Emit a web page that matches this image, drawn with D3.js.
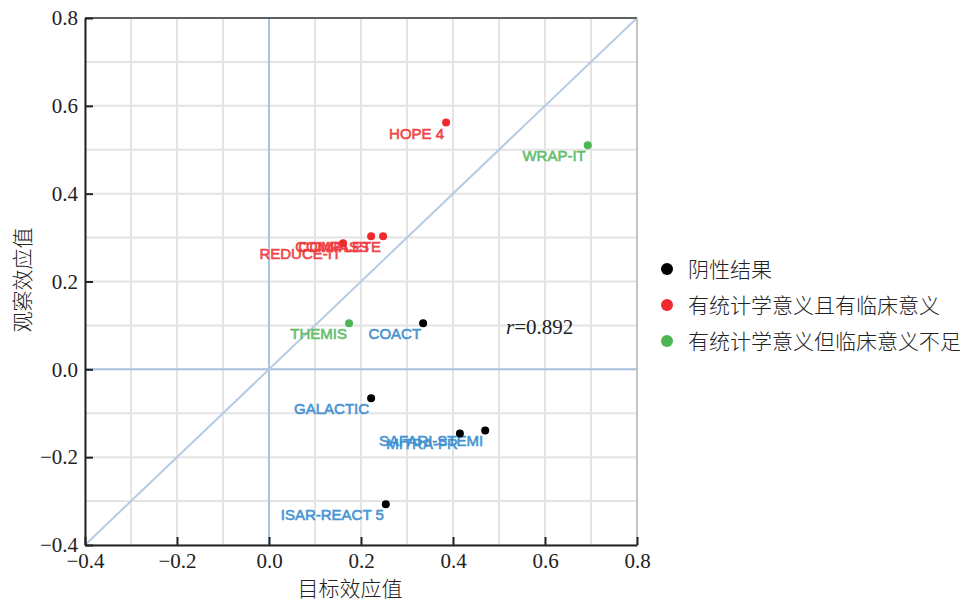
<!DOCTYPE html>
<html><head><meta charset="utf-8">
<script src="https://cdn.jsdelivr.net/npm/d3@7"></script>
<style>body{margin:0;background:#fff}</style>
</head><body>
<svg id="c" width="967" height="604"></svg>
<script>
const trials = ["HOPE 4","WRAP-IT","COMPASS","COMPLETE","REDUCE-IT","THEMIS","COACT","GALACTIC","SAFARI-STEMI","MITRA-FR","ISAR-REACT 5"];
const targetEffect = [0.385,0.693,0.222,0.248,0.161,0.174,0.335,0.222,0.470,0.415,0.254];
const observedEffect = [0.562,0.510,0.303,0.303,0.287,0.105,0.105,-0.066,-0.139,-0.146,-0.307];
const group = [1,2,1,1,1,2,0,0,0,0,0];
const legendLabels = ["阴性结果","有统计学意义且有临床意义","有统计学意义但临床意义不足"];
const tickValues = [-0.4,-0.2,0.0,0.2,0.4,0.6,0.8];
const xTitle = "目标效应值", yTitle = "观察效应值";
const rText = "0.892";

const dotColors = ["#000000","#ee2a2f","#4cb552"];
const labelColors = ["#3d8fd1","#ef3a40","#5cbb66"];

const svg = d3.select("#c");
const x = d3.scaleLinear().domain([-0.4,0.8]).range([85,637]);
const y = d3.scaleLinear().domain([-0.4,0.8]).range([545,18]);

// grid
const grid = d3.range(-4,9).map(d=>d/10);
svg.append("g").selectAll("line").data(grid).join("line")
  .attr("x1",d=>x(d)).attr("x2",d=>x(d)).attr("y1",y(-0.4)).attr("y2",y(0.8))
  .attr("stroke","#e4e4e4").attr("stroke-width",2);
svg.append("g").selectAll("line").data(grid).join("line")
  .attr("y1",d=>y(d)).attr("y2",d=>y(d)).attr("x1",x(-0.4)).attr("x2",x(0.8))
  .attr("stroke","#e4e4e4").attr("stroke-width",2);

// zero lines and diagonal
svg.append("line").attr("x1",x(0)).attr("x2",x(0)).attr("y1",y(-0.4)).attr("y2",y(0.8))
  .attr("stroke","#aac3e0").attr("stroke-width",2);
svg.append("line").attr("x1",x(-0.4)).attr("x2",x(0.8)).attr("y1",y(0)).attr("y2",y(0))
  .attr("stroke","#aac3e0").attr("stroke-width",2);
svg.append("line").attr("x1",x(-0.4)).attr("y1",y(-0.4)).attr("x2",x(0.8)).attr("y2",y(0.8))
  .attr("stroke","#b6cbe4").attr("stroke-width",2);

// frame top / right
svg.append("line").attr("x1",x(-0.4)).attr("x2",x(0.8)).attr("y1",y(0.8)).attr("y2",y(0.8))
  .attr("stroke","#333").attr("stroke-width",1.5);
svg.append("line").attr("x1",x(0.8)).attr("x2",x(0.8)).attr("y1",y(0.8)).attr("y2",y(-0.4))
  .attr("stroke","#bbb").attr("stroke-width",1.5);

// axes
const fmt = d=> (d<0?"\u2212":"")+Math.abs(d).toFixed(1);
const xAxis = svg.append("g").attr("transform",`translate(0,${y(-0.4)})`)
  .call(d3.axisBottom(x).tickValues(tickValues).tickSizeInner(-8).tickSizeOuter(0).tickPadding(8).tickFormat(fmt));
const yAxis = svg.append("g").attr("transform",`translate(${x(-0.4)},0)`)
  .call(d3.axisLeft(y).tickValues(tickValues).tickSizeInner(-8).tickSizeOuter(0).tickPadding(7).tickFormat(fmt));
[xAxis,yAxis].forEach(a=>{
  a.select(".domain").attr("stroke","#222").attr("stroke-width",2);
  a.selectAll(".tick line").attr("stroke","#222").attr("stroke-width",2);
  a.selectAll(".tick text").attr("font-family","'Liberation Serif','DejaVu Serif',serif")
    .attr("font-size",21).attr("fill","#222");
});

// titles
svg.append("text").attr("x",350).attr("y",596).attr("text-anchor","middle")
  .attr("font-family","'Noto Sans CJK SC',sans-serif").attr("font-weight",300).attr("font-size",21).attr("fill","#222").text(xTitle);
svg.append("text").attr("transform",`translate(30,280) rotate(-90)`).attr("text-anchor","middle")
  .attr("font-family","'Noto Sans CJK SC',sans-serif").attr("font-weight",300).attr("font-size",21).attr("fill","#222").text(yTitle);

// points & labels
const idx = d3.range(trials.length);
svg.append("g").selectAll("text").data(idx).join("text")
  .attr("x",i=>x(targetEffect[i])-2).attr("y",i=>y(observedEffect[i])+16)
  .attr("text-anchor","end").attr("font-family","'Liberation Sans',Arial,sans-serif")
  .attr("font-size",15).attr("fill",i=>labelColors[group[i]]).attr("fill-opacity",0.9)
  .attr("stroke",i=>labelColors[group[i]]).attr("stroke-width",0.6)
  .text(i=>trials[i]);
svg.append("g").selectAll("circle").data(idx).join("circle")
  .attr("cx",i=>x(targetEffect[i])).attr("cy",i=>y(observedEffect[i])).attr("r",4)
  .attr("fill",i=>dotColors[group[i]]);

// r annotation
const rt = svg.append("text").attr("x",506).attr("y",334)
  .attr("font-family","'Liberation Serif',serif").attr("font-size",21).attr("fill","#222");
rt.append("tspan").attr("font-style","italic").text("r");
rt.append("tspan").text("="+rText);

// legend
const lg = svg.append("g");
legendLabels.forEach((t,i)=>{
  lg.append("circle").attr("cx",667).attr("cy",269+i*36).attr("r",6).attr("fill",dotColors[i]);
  lg.append("text").attr("x",688).attr("y",269+i*36).attr("dy","0.36em")
    .attr("font-family","'Noto Sans CJK SC',sans-serif").attr("font-weight",300).attr("font-size",21).attr("fill","#222").text(t);
});
</script>
</body></html>
